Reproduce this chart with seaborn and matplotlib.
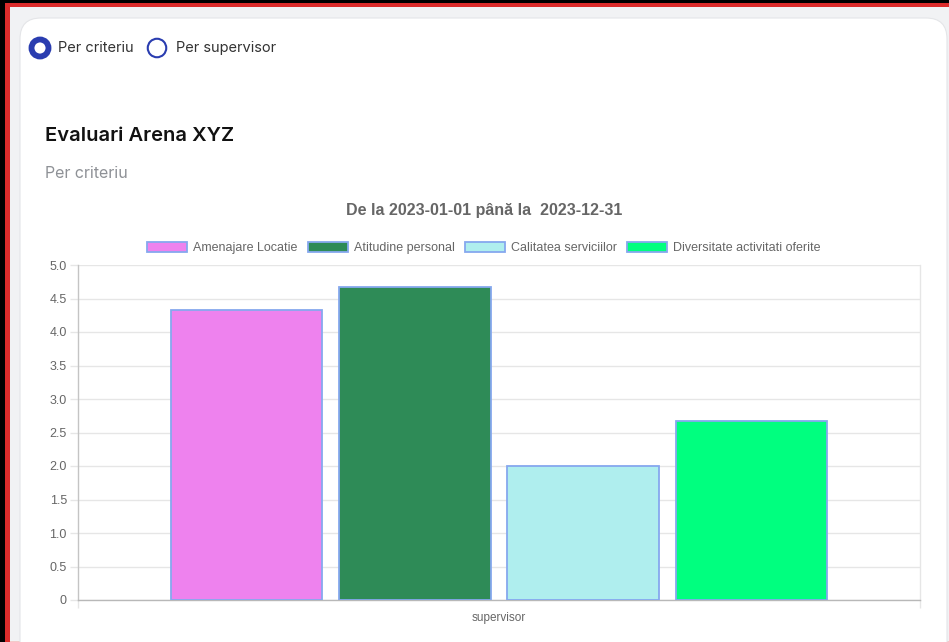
import matplotlib
matplotlib.use("Agg")
import matplotlib.pyplot as plt
from matplotlib.patches import Rectangle, FancyBboxPatch, Ellipse
import pandas as pd
import seaborn as sns

# ===== データ =====
GRUP = "supervisor"
CRITERII = ["Amenajare Locatie", "Atitudine personal", "Calitatea serviciilor",
            "Diversitate activitati oferite"]
SCORURI = [4.33, 4.67, 2.0, 2.67]
CULORI = ["#EE82EE", "#2E8B57", "#AFEEEE", "#00FF7F"]
Y_TICKS = [0, 0.5, 1.0, 1.5, 2.0, 2.5, 3.0, 3.5, 4.0, 4.5, 5.0]
Y_LABELS = ["0"] + [f"{v:.1f}" for v in Y_TICKS[1:]]

W, H = 949, 642

sns.set_style("white")
plt.rcParams["font.family"] = ["Liberation Sans", "DejaVu Sans"]

fig = plt.figure(figsize=(W / 100, H / 100), dpi=100)
fig.patch.set_facecolor("white")


def fx(px):
    return px / W


def fy(py):
    return 1 - py / H


# --- 画面の枠（スクリーンショット風） ---
fig.add_artist(Rectangle((0, 0), 1, 1, transform=fig.transFigure,
                         facecolor="black", edgecolor="none", zorder=-10))
fig.add_artist(Rectangle((fx(5), 0), 1, fy(2.5), transform=fig.transFigure,
                         facecolor="#DC2B2B", edgecolor="none", zorder=-9))
fig.add_artist(Rectangle((fx(10), 0), 1, fy(7), transform=fig.transFigure,
                         facecolor="#F1F2F4", edgecolor="none", zorder=-8))
fig.add_artist(Rectangle((fx(10), 0), 1, fy(640.5), transform=fig.transFigure,
                         facecolor="#F3C9C9", edgecolor="none", zorder=-7))
fig.add_artist(FancyBboxPatch((fx(20), fy(700)), fx(927), fy(18) - fy(700),
                              boxstyle="round,pad=0,rounding_size=0.022",
                              transform=fig.transFigure, mutation_aspect=W / H,
                              facecolor="white", edgecolor="#E4E5E8", lw=0.8,
                              zorder=-6))

# --- ラジオボタン ---
fig.add_artist(Ellipse((fx(40), fy(48)), 17 / W, 17 / H, transform=fig.transFigure,
                       facecolor="white", edgecolor="#2A3DB0", lw=4.2))
fig.add_artist(Ellipse((fx(157), fy(48)), 18.5 / W, 18.5 / H,
                       transform=fig.transFigure,
                       facecolor="white", edgecolor="#2A3DB0", lw=1.5))
page_font = ["Inter", "DejaVu Sans"]
fig.text(fx(58), fy(48), "Per criteriu", fontsize=10.5, color="#333333",
         va="center", ha="left", family=page_font)
fig.text(fx(176), fy(48), "Per supervisor", fontsize=10.5, color="#333333",
         va="center", ha="left", family=page_font)
fig.text(fx(45), fy(136), "Evaluari Arena XYZ", fontsize=14.5, color="#111111",
         va="center", ha="left", family=page_font, fontweight="semibold")
fig.text(fx(45), fy(173), "Per criteriu", fontsize=11.5, color="#8E9196",
         va="center", ha="left", family=page_font)

# --- グラフ本体 ---
df = pd.DataFrame({"grup": [GRUP] * len(CRITERII), "criteriu": CRITERII,
                   "scor": SCORURI})

ax = fig.add_axes([fx(78), fy(600), fx(920) - fx(78), fy(265) - fy(600)])
sns.barplot(data=df, x="grup", y="scor", hue="criteriu", hue_order=CRITERII,
            palette=CULORI, saturation=1, width=0.8, gap=0.1,
            edgecolor="#86A8EE", linewidth=1.3, legend=False, ax=ax, zorder=3)

ax.set_xlim(-0.5, 0.5)
ax.set_ylim(0, 5)
ax.set_yticks(Y_TICKS)
ax.set_yticklabels(Y_LABELS)
ax.set_xlabel("")
ax.set_ylabel("")
ax.grid(axis="y", color="#E6E6E6", lw=1, zorder=0)
ax.set_axisbelow(True)
ax.spines["top"].set_visible(False)
ax.spines["right"].set_color("#E6E6E6")
ax.spines["left"].set_color("#C4C4C4")
ax.spines["bottom"].set_color("#B8B8B8")
for s in ax.spines.values():
    s.set_linewidth(1)
ax.tick_params(axis="y", length=6, width=1, color="#E6E6E6", labelsize=9,
               labelcolor="#666666", pad=2, left=True)
ax.tick_params(axis="x", length=0, labelsize=8.5, labelcolor="#666666", pad=9)
ax.set_xticks([-0.5, 0.5], minor=True)
ax.tick_params(axis="x", which="minor", length=6, width=1, color="#E6E6E6",
               bottom=True)

# 凡例
handles = [c[0] for c in ax.containers]
fig.legend(handles, CRITERII, loc="center", bbox_to_anchor=(fx(484), fy(248)),
           ncol=4, frameon=False, fontsize=9, labelcolor="#666666",
           handlelength=3.2, handleheight=0.95, handletextpad=0.5,
           columnspacing=0.8)

fig.text(fx(484), fy(211), "De la 2023-01-01 până la  2023-12-31",
         fontsize=11.5, fontweight="bold", color="#666666",
         ha="center", va="center")

fig.savefig("out.png", dpi=100)
